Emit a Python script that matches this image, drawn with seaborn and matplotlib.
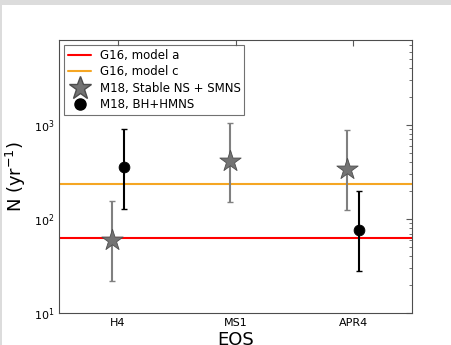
import numpy as np
import pandas as pd
import matplotlib
matplotlib.use('Agg')
import matplotlib.pyplot as plt
import seaborn as sns
from matplotlib.lines import Line2D

# data
eos = ['H4', 'MS1', 'APR4']
g16_a = 62
g16_c = 238

star_eos = ['H4', 'MS1', 'APR4']
star_val = [60, 416, 340]
star_lo = [22, 153, 125]
star_hi = [157, 1057, 880]

dot_eos = ['H4', 'APR4']
dot_val = [360, 77]
dot_lo = [129, 28]
dot_hi = [908, 197]

sns.set_style('white')
plt.rcParams['font.family'] = ['DejaVu Sans']
plt.rcParams['text.color'] = 'black'
plt.rcParams['axes.labelcolor'] = 'black'
plt.rcParams['xtick.color'] = 'black'
plt.rcParams['ytick.color'] = 'black'

pos = {e: i + 1 for i, e in enumerate(eos)}
stars = pd.DataFrame({'x': [pos[e] - 0.05 for e in star_eos], 'N': star_val,
                      'lo': star_lo, 'hi': star_hi})
dots = pd.DataFrame({'x': [pos[e] + 0.05 for e in dot_eos], 'N': dot_val,
                     'lo': dot_lo, 'hi': dot_hi})

fig = plt.figure(figsize=(4.52, 3.45), dpi=100, facecolor='#dcdcdc')
# white page with a thin grey strip on top/left like the screenshot
bg = plt.Rectangle((2 / 452, 0), 1, 1 - 5 / 345, transform=fig.transFigure,
                   facecolor='white', edgecolor='none', zorder=-10)
fig.patches.append(bg)
ax = fig.add_axes([59 / 452, 1 - 313 / 345, (412 - 59) / 452, (313 - 40) / 345])

ax.axhline(g16_a, color='red', lw=1.5, zorder=1)
ax.axhline(g16_c, color='#f5a623', lw=1.5, zorder=1)

ax.errorbar(stars.x, stars.N, yerr=[stars.N - stars.lo, stars.hi - stars.N],
            fmt='none', ecolor='0.5', elinewidth=1.5, capsize=2, zorder=2)
ax.errorbar(dots.x, dots.N, yerr=[dots.N - dots.lo, dots.hi - dots.N],
            fmt='none', ecolor='black', elinewidth=1.5, capsize=2, zorder=2)
sns.scatterplot(data=stars, x='x', y='N', marker='*', s=260, color='0.45',
                edgecolor='0.3', linewidth=0.6, ax=ax, zorder=3)
sns.scatterplot(data=dots, x='x', y='N', marker='o', s=60, color='black',
                edgecolor='black', ax=ax, zorder=3)

ax.set_yscale('log')
ax.set_ylim(10, 8000)
ax.set_xlim(0.5, 3.5)
ax.set_xticks([1, 2, 3])
ax.set_xticklabels(eos, fontsize=8)
ax.tick_params(axis='y', labelsize=8)
ax.tick_params(which='both', direction='in', top=True, right=True, color='0.35')
ax.tick_params(which='major', length=4)
ax.tick_params(which='minor', length=2)
for s in ax.spines.values():
    s.set_color('0.3')
ax.set_xlabel('EOS', fontsize=13, labelpad=2)
ax.set_ylabel('N (yr$^{-1}$)', fontsize=13)

handles = [Line2D([], [], color='red', lw=1.5),
           Line2D([], [], color='#f5a623', lw=1.5),
           Line2D([], [], ls='none', marker='*', ms=17, color='0.45', mec='0.3'),
           Line2D([], [], ls='none', marker='o', ms=8, color='black')]
labels = ['G16, model a', 'G16, model c', 'M18, Stable NS + SMNS', 'M18, BH+HMNS']
leg = ax.legend(handles, labels, loc='upper left', fontsize=8.5, frameon=True,
                fancybox=False, edgecolor='0.3', borderaxespad=0.45,
                handlelength=2.0, labelspacing=0.3, borderpad=0.3,
                handletextpad=0.7)
leg.get_frame().set_linewidth(0.8)

fig.savefig('out.png', dpi=100, facecolor=fig.get_facecolor())
